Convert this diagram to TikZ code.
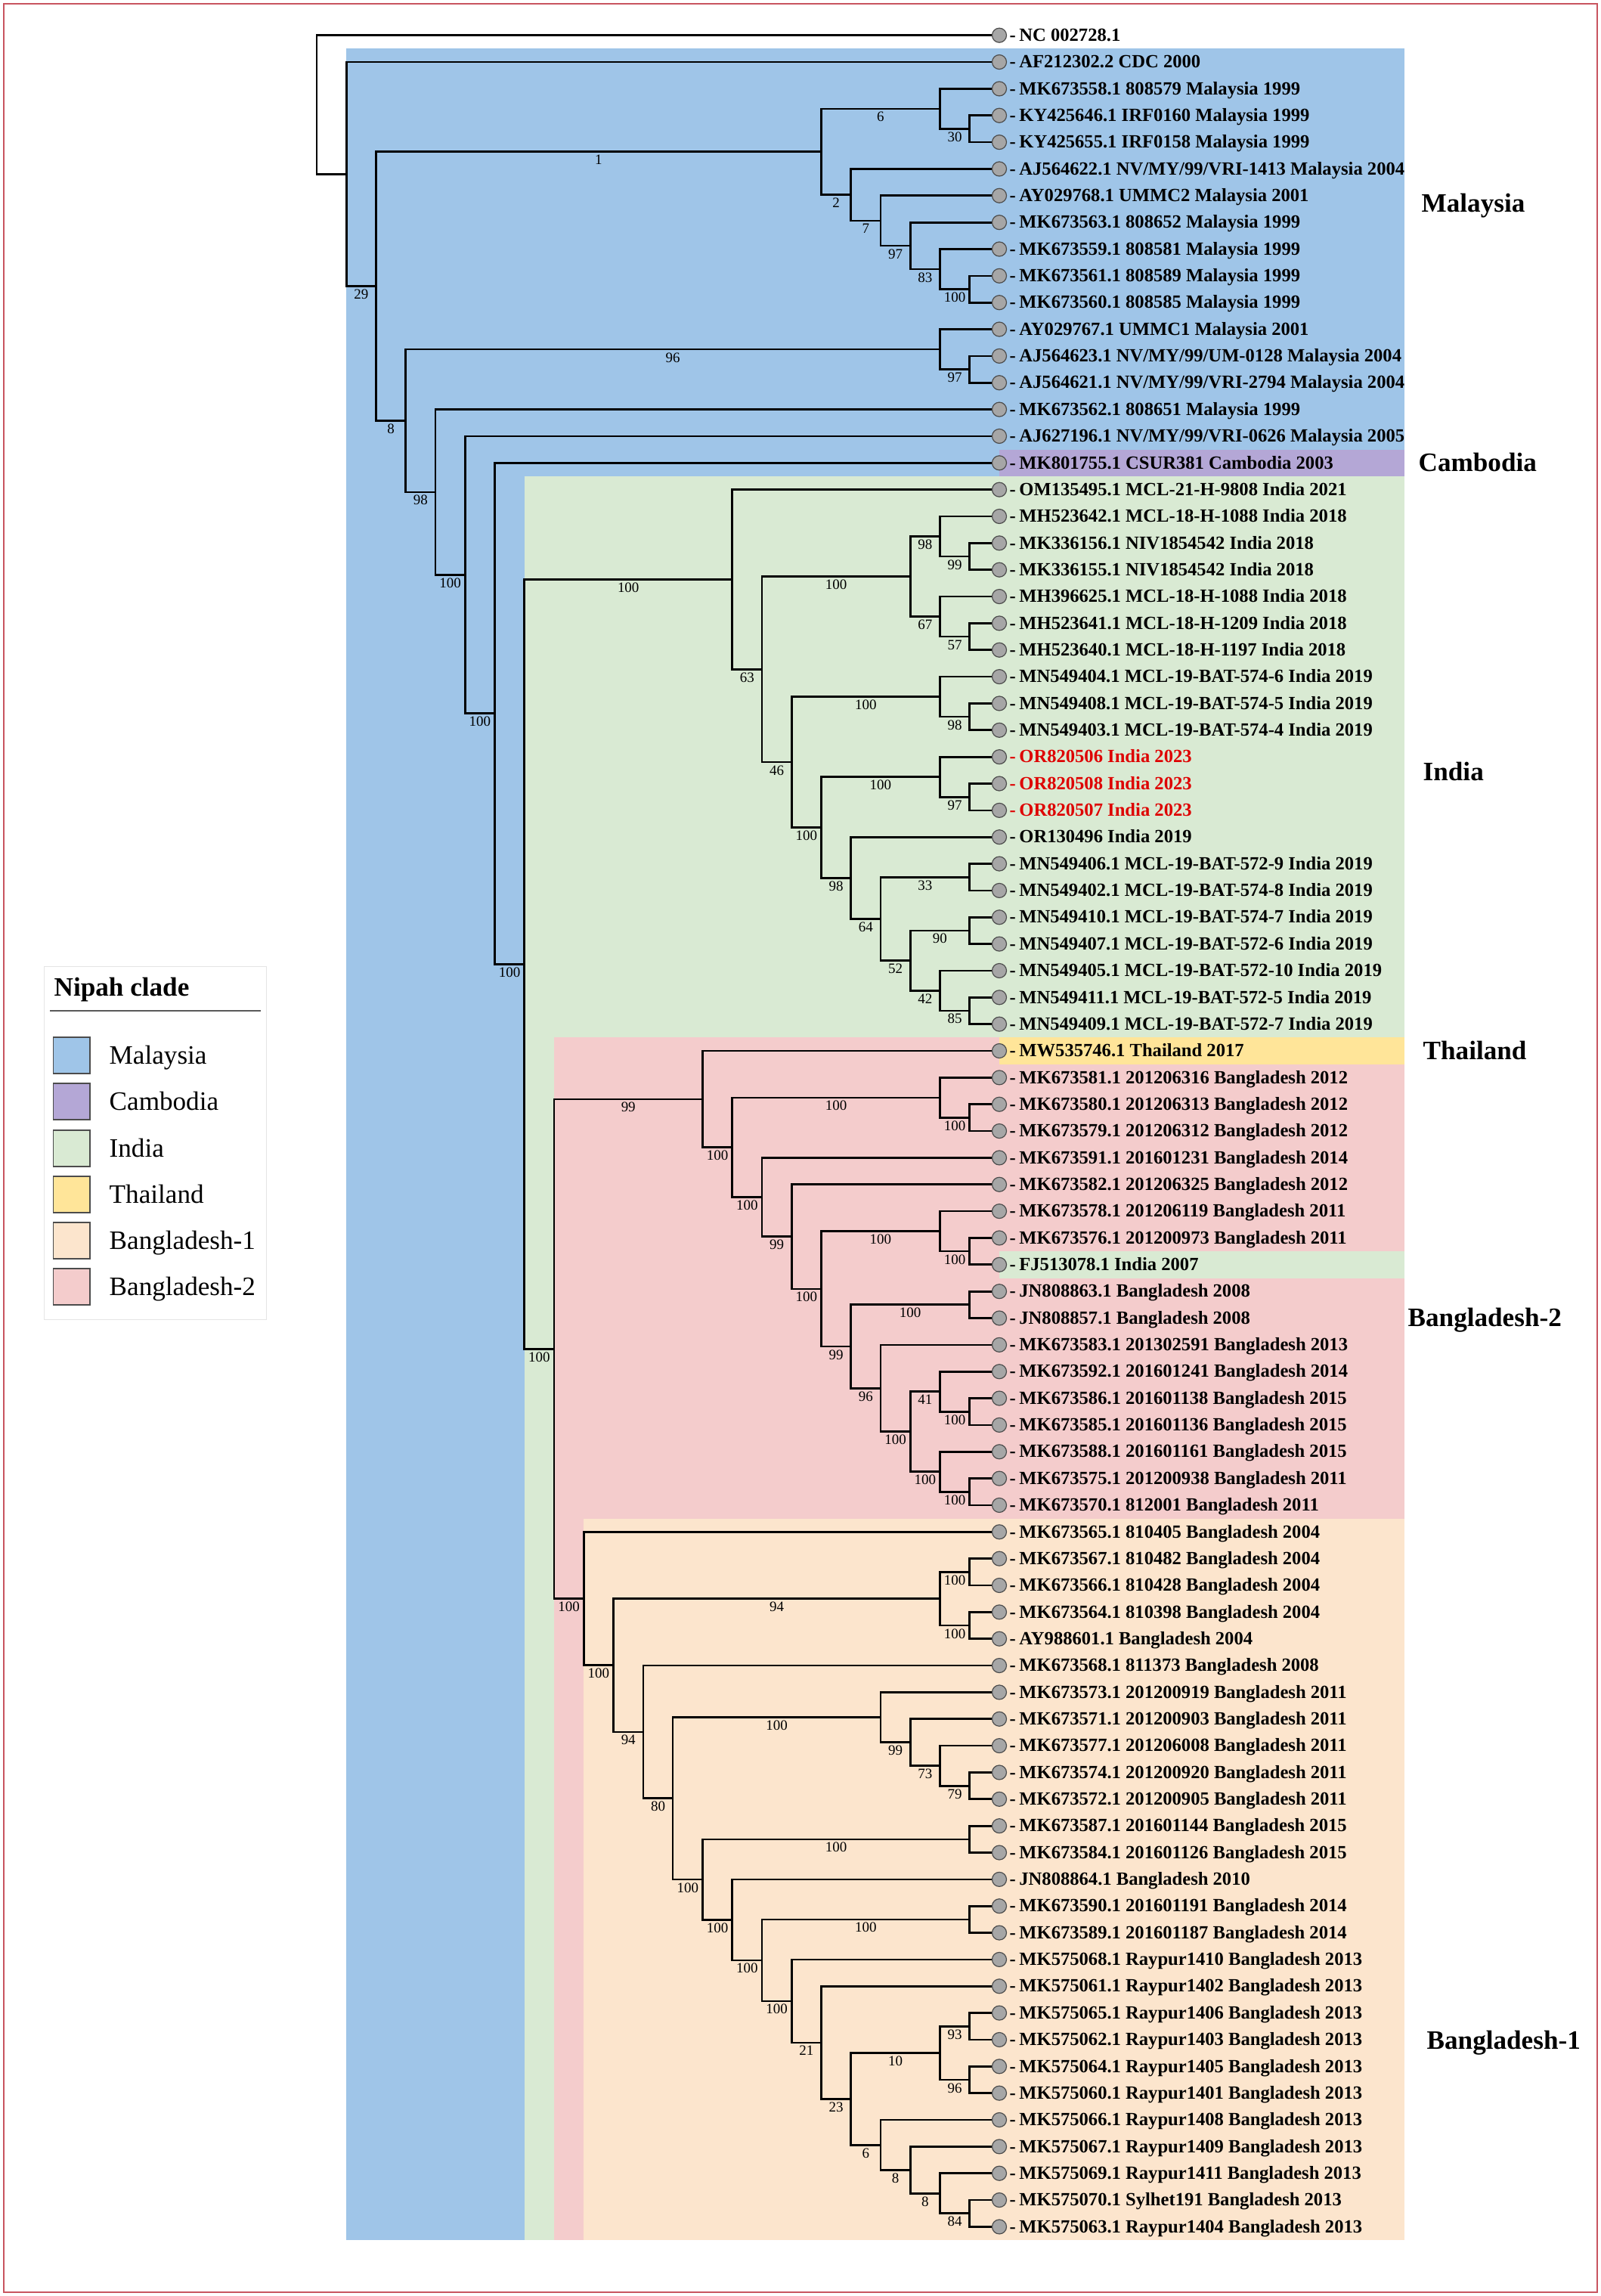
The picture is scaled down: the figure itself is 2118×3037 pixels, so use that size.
\documentclass[tikz,border=0pt]{standalone}
\usepackage{fontspec}
\setmainfont{Liberation Serif}
\usetikzlibrary{calc}

\definecolor{cMal}{RGB}{159,197,232}
\definecolor{cCam}{RGB}{180,167,214}
\definecolor{cInd}{RGB}{217,234,211}
\definecolor{cTha}{RGB}{255,229,153}
\definecolor{cBdo}{RGB}{252,229,205}
\definecolor{cBdt}{RGB}{244,204,204}
\definecolor{cBorder}{RGB}{200,85,95}
\definecolor{cRedlab}{RGB}{222,0,0}

\tikzset{
  branch/.style={line width=0.27mm, black},
  bs/.style={pos=0.75, anchor=base, yshift=-1.7mm, inner sep=0pt, font=\fontsize{5.4}{6}\selectfont},
  leafdot/.style={circle, draw=black!70, line width=0.12mm, fill=black!35, minimum size=1.9mm, inner sep=0pt},
  leaflab/.style={anchor=base west, inner sep=0pt, font=\bfseries\fontsize{7}{8}\selectfont},
  region/.style={anchor=base west, inner sep=0pt, font=\bfseries\fontsize{10}{12}\selectfont},
  legtxt/.style={anchor=base west, inner sep=0pt, font=\fontsize{10}{12}\selectfont},
  swatch/.style={draw=black!70, line width=0.12mm},
}

% internal tree node: name, level k, first child, last child
\newcommand\tn[4]{\path let \p1=(#3), \p2=(#4) in coordinate (#1) at ({(419+39.26*#2)*0.1mm},{0.5*(\y1+\y2)});}
% branch with bootstrap label / without
\newcommand\br[3]{\draw[branch] (#1) |- (#2) node[bs] {#3};}
\newcommand\bn[2]{\draw[branch] (#1) |- (#2);}
% leaf label
\newcommand\lt[3][black]{\node[leaflab,text=#1] (t#2) at ($(l#2)+(13,7.7)$) {-\kern0.45mm#3};}

\begin{document}
\begin{tikzpicture}[x=0.1mm,y=-0.1mm]
\useasboundingbox (0,0) rectangle (2118,3037);

% ---------- clade backgrounds ----------
\fill[cMal] (458.3,64.4) rectangle (1858,2963.1);
\fill[cInd] (693.8,630.0) rectangle (1858,1372.3);
\fill[cInd] (693.8,1372.3) rectangle (733.1,2963.1);
\fill[cBdt] (733.1,1372.3) rectangle (1858,2008.6);
\fill[cBdt] (733.1,2008.6) rectangle (772.3,2963.1);
\fill[cBdo] (772.3,2008.6) rectangle (1858,2963.1);
\fill[cCam] (1322,594.6) rectangle (1858,630.0);
\fill[cTha] (1322,1372.3) rectangle (1858,1407.7);
\fill[cInd] (1322,1655.1) rectangle (1858,1690.5);

% ---------- leaf positions ----------
\foreach \i in {0,...,82} {\coordinate (l\i) at (1322,{46.7+35.35*\i});}

% ---------- internal nodes (bottom-up) ----------
% Malaysia
\tn{M3}{22}{l3}{l4}
\tn{M2}{21}{l2}{M3}
\tn{M8}{22}{l9}{l10}
\tn{M7}{21}{l8}{M8}
\tn{M6}{20}{l7}{M7}
\tn{M5}{19}{l6}{M6}
\tn{M4}{18}{l5}{M5}
\tn{M1}{17}{M2}{M4}
\tn{U2}{22}{l12}{l13}
\tn{U1}{21}{l11}{U2}
% India
\tn{J1a}{22}{l19}{l20}
\tn{J1}{21}{l18}{J1a}
\tn{J2a}{22}{l22}{l23}
\tn{J2}{21}{l21}{J2a}
\tn{J}{20}{J1}{J2}
\tn{La}{22}{l25}{l26}
\tn{L}{21}{l24}{La}
\tn{Na}{22}{l28}{l29}
\tn{N}{21}{l27}{Na}
\tn{Q}{22}{l31}{l32}
\tn{S}{22}{l33}{l34}
\tn{Ta}{22}{l36}{l37}
\tn{T}{21}{l35}{Ta}
\tn{R1}{20}{S}{T}
\tn{P}{19}{Q}{R1}
\tn{O}{18}{l30}{P}
\tn{M}{17}{N}{O}
\tn{K}{16}{L}{M}
\tn{I}{15}{J}{K}
\tn{H}{14}{l17}{I}
% Bangladesh-2 / Thailand
\tn{V2a}{22}{l40}{l41}
\tn{V2}{21}{l39}{V2a}
\tn{V6a}{22}{l45}{l46}
\tn{V6}{21}{l44}{V6a}
\tn{V8}{22}{l47}{l48}
\tn{V11a}{22}{l51}{l52}
\tn{V11}{21}{l50}{V11a}
\tn{V12a}{22}{l54}{l55}
\tn{V12}{21}{l53}{V12a}
\tn{V10}{20}{V11}{V12}
\tn{V9}{19}{l49}{V10}
\tn{V7}{18}{V8}{V9}
\tn{V5}{17}{V6}{V7}
\tn{V4}{16}{l43}{V5}
\tn{V3}{15}{l42}{V4}
\tn{V1}{14}{V2}{V3}
\tn{V}{13}{l38}{V1}
% Bangladesh-1
\tn{W2a}{22}{l57}{l58}
\tn{W2b}{22}{l59}{l60}
\tn{W2}{21}{W2a}{W2b}
\tn{W5c}{22}{l65}{l66}
\tn{W5b}{21}{l64}{W5c}
\tn{W5a}{20}{l63}{W5b}
\tn{W5}{19}{l62}{W5a}
\tn{W7}{22}{l67}{l68}
\tn{W10}{22}{l70}{l71}
\tn{W14a}{22}{l74}{l75}
\tn{W14b}{22}{l76}{l77}
\tn{W14}{21}{W14a}{W14b}
\tn{W17a}{22}{l81}{l82}
\tn{W17}{21}{l80}{W17a}
\tn{W16}{20}{l79}{W17}
\tn{W15}{19}{l78}{W16}
\tn{W13}{18}{W14}{W15}
\tn{W12}{17}{l73}{W13}
\tn{W11}{16}{l72}{W12}
\tn{W9}{15}{W10}{W11}
\tn{W8}{14}{l69}{W9}
\tn{W6}{13}{W7}{W8}
\tn{W4}{12}{W5}{W6}
\tn{W3}{11}{l61}{W4}
\tn{W1}{10}{W2}{W3}
\tn{W}{9}{l56}{W1}
% backbone
\tn{BD}{8}{V}{W}
\tn{G}{7}{H}{BD}
\tn{F}{6}{l16}{G}
\tn{E}{5}{l15}{F}
\tn{D}{4}{l14}{E}
\tn{C}{3}{U1}{D}
\tn{B}{2}{M1}{C}
\tn{A}{1}{l1}{B}
\tn{RT}{0}{l0}{A}

% ---------- branches ----------
\bn{RT}{l0} \bn{RT}{A}
\bn{A}{l1} \br{A}{B}{29}
\br{B}{M1}{1} \br{B}{C}{8}
\br{M1}{M2}{6} \br{M1}{M4}{2}
\bn{M2}{l2} \br{M2}{M3}{30}
\bn{M3}{l3} \bn{M3}{l4}
\bn{M4}{l5} \br{M4}{M5}{7}
\bn{M5}{l6} \br{M5}{M6}{97}
\bn{M6}{l7} \br{M6}{M7}{83}
\bn{M7}{l8} \br{M7}{M8}{100}
\bn{M8}{l9} \bn{M8}{l10}
\br{C}{U1}{96} \br{C}{D}{98}
\bn{U1}{l11} \br{U1}{U2}{97}
\bn{U2}{l12} \bn{U2}{l13}
\bn{D}{l14} \br{D}{E}{100}
\bn{E}{l15} \br{E}{F}{100}
\bn{F}{l16} \br{F}{G}{100}
\br{G}{H}{100} \br{G}{BD}{100}
\bn{H}{l17} \br{H}{I}{63}
\br{I}{J}{100} \br{I}{K}{46}
\br{J}{J1}{98} \br{J}{J2}{67}
\bn{J1}{l18} \br{J1}{J1a}{99}
\bn{J1a}{l19} \bn{J1a}{l20}
\bn{J2}{l21} \br{J2}{J2a}{57}
\bn{J2a}{l22} \bn{J2a}{l23}
\br{K}{L}{100} \br{K}{M}{100}
\bn{L}{l24} \br{L}{La}{98}
\bn{La}{l25} \bn{La}{l26}
\br{M}{N}{100} \br{M}{O}{98}
\bn{N}{l27} \br{N}{Na}{97}
\bn{Na}{l28} \bn{Na}{l29}
\bn{O}{l30} \br{O}{P}{64}
\br{P}{Q}{33} \br{P}{R1}{52}
\bn{Q}{l31} \bn{Q}{l32}
\br{R1}{S}{90} \br{R1}{T}{42}
\bn{S}{l33} \bn{S}{l34}
\bn{T}{l35} \br{T}{Ta}{85}
\bn{Ta}{l36} \bn{Ta}{l37}
\br{BD}{V}{99} \br{BD}{W}{100}
\bn{V}{l38} \br{V}{V1}{100}
\br{V1}{V2}{100} \br{V1}{V3}{100}
\bn{V2}{l39} \br{V2}{V2a}{100}
\bn{V2a}{l40} \bn{V2a}{l41}
\bn{V3}{l42} \br{V3}{V4}{99}
\bn{V4}{l43} \br{V4}{V5}{100}
\br{V5}{V6}{100} \br{V5}{V7}{99}
\bn{V6}{l44} \br{V6}{V6a}{100}
\bn{V6a}{l45} \bn{V6a}{l46}
\br{V7}{V8}{100} \br{V7}{V9}{96}
\bn{V8}{l47} \bn{V8}{l48}
\bn{V9}{l49} \br{V9}{V10}{100}
\br{V10}{V11}{41} \br{V10}{V12}{100}
\bn{V11}{l50} \br{V11}{V11a}{100}
\bn{V11a}{l51} \bn{V11a}{l52}
\bn{V12}{l53} \br{V12}{V12a}{100}
\bn{V12a}{l54} \bn{V12a}{l55}
\bn{W}{l56} \br{W}{W1}{100}
\br{W1}{W2}{94} \br{W1}{W3}{94}
\br{W2}{W2a}{100} \br{W2}{W2b}{100}
\bn{W2a}{l57} \bn{W2a}{l58}
\bn{W2b}{l59} \bn{W2b}{l60}
\bn{W3}{l61} \br{W3}{W4}{80}
\br{W4}{W5}{100} \br{W4}{W6}{100}
\bn{W5}{l62} \br{W5}{W5a}{99}
\bn{W5a}{l63} \br{W5a}{W5b}{73}
\bn{W5b}{l64} \br{W5b}{W5c}{79}
\bn{W5c}{l65} \bn{W5c}{l66}
\br{W6}{W7}{100} \br{W6}{W8}{100}
\bn{W7}{l67} \bn{W7}{l68}
\bn{W8}{l69} \br{W8}{W9}{100}
\br{W9}{W10}{100} \br{W9}{W11}{100}
\bn{W10}{l70} \bn{W10}{l71}
\bn{W11}{l72} \br{W11}{W12}{21}
\bn{W12}{l73} \br{W12}{W13}{23}
\br{W13}{W14}{10} \br{W13}{W15}{6}
\br{W14}{W14a}{93} \br{W14}{W14b}{96}
\bn{W14a}{l74} \bn{W14a}{l75}
\bn{W14b}{l76} \bn{W14b}{l77}
\bn{W15}{l78} \br{W15}{W16}{8}
\bn{W16}{l79} \br{W16}{W17}{8}
\bn{W17}{l80} \br{W17}{W17a}{84}
\bn{W17a}{l81} \bn{W17a}{l82}

% ---------- leaf tips ----------
\foreach \i in {0,...,82} {\node[leafdot] (c\i) at (l\i) {};}

% ---------- leaf labels ----------
\lt{0}{NC 002728.1}
\lt{1}{AF212302.2 CDC 2000}
\lt{2}{MK673558.1 808579 Malaysia 1999}
\lt{3}{KY425646.1 IRF0160 Malaysia 1999}
\lt{4}{KY425655.1 IRF0158 Malaysia 1999}
\lt{5}{AJ564622.1 NV/MY/99/VRI-1413 Malaysia 2004}
\lt{6}{AY029768.1 UMMC2 Malaysia 2001}
\lt{7}{MK673563.1 808652 Malaysia 1999}
\lt{8}{MK673559.1 808581 Malaysia 1999}
\lt{9}{MK673561.1 808589 Malaysia 1999}
\lt{10}{MK673560.1 808585 Malaysia 1999}
\lt{11}{AY029767.1 UMMC1 Malaysia 2001}
\lt{12}{AJ564623.1 NV/MY/99/UM-0128 Malaysia 2004}
\lt{13}{AJ564621.1 NV/MY/99/VRI-2794 Malaysia 2004}
\lt{14}{MK673562.1 808651 Malaysia 1999}
\lt{15}{AJ627196.1 NV/MY/99/VRI-0626 Malaysia 2005}
\lt{16}{MK801755.1 CSUR381 Cambodia 2003}
\lt{17}{OM135495.1 MCL-21-H-9808 India 2021}
\lt{18}{MH523642.1 MCL-18-H-1088 India 2018}
\lt{19}{MK336156.1 NIV1854542 India 2018}
\lt{20}{MK336155.1 NIV1854542 India 2018}
\lt{21}{MH396625.1 MCL-18-H-1088 India 2018}
\lt{22}{MH523641.1 MCL-18-H-1209 India 2018}
\lt{23}{MH523640.1 MCL-18-H-1197 India 2018}
\lt{24}{MN549404.1 MCL-19-BAT-574-6 India 2019}
\lt{25}{MN549408.1 MCL-19-BAT-574-5 India 2019}
\lt{26}{MN549403.1 MCL-19-BAT-574-4 India 2019}
\lt[cRedlab]{27}{OR820506 India 2023}
\lt[cRedlab]{28}{OR820508 India 2023}
\lt[cRedlab]{29}{OR820507 India 2023}
\lt{30}{OR130496 India 2019}
\lt{31}{MN549406.1 MCL-19-BAT-572-9 India 2019}
\lt{32}{MN549402.1 MCL-19-BAT-574-8 India 2019}
\lt{33}{MN549410.1 MCL-19-BAT-574-7 India 2019}
\lt{34}{MN549407.1 MCL-19-BAT-572-6 India 2019}
\lt{35}{MN549405.1 MCL-19-BAT-572-10 India 2019}
\lt{36}{MN549411.1 MCL-19-BAT-572-5 India 2019}
\lt{37}{MN549409.1 MCL-19-BAT-572-7 India 2019}
\lt{38}{MW535746.1 Thailand 2017}
\lt{39}{MK673581.1 201206316 Bangladesh 2012}
\lt{40}{MK673580.1 201206313 Bangladesh 2012}
\lt{41}{MK673579.1 201206312 Bangladesh 2012}
\lt{42}{MK673591.1 201601231 Bangladesh 2014}
\lt{43}{MK673582.1 201206325 Bangladesh 2012}
\lt{44}{MK673578.1 201206119 Bangladesh 2011}
\lt{45}{MK673576.1 201200973 Bangladesh 2011}
\lt{46}{FJ513078.1 India 2007}
\lt{47}{JN808863.1 Bangladesh 2008}
\lt{48}{JN808857.1 Bangladesh 2008}
\lt{49}{MK673583.1 201302591 Bangladesh 2013}
\lt{50}{MK673592.1 201601241 Bangladesh 2014}
\lt{51}{MK673586.1 201601138 Bangladesh 2015}
\lt{52}{MK673585.1 201601136 Bangladesh 2015}
\lt{53}{MK673588.1 201601161 Bangladesh 2015}
\lt{54}{MK673575.1 201200938 Bangladesh 2011}
\lt{55}{MK673570.1 812001 Bangladesh 2011}
\lt{56}{MK673565.1 810405 Bangladesh 2004}
\lt{57}{MK673567.1 810482 Bangladesh 2004}
\lt{58}{MK673566.1 810428 Bangladesh 2004}
\lt{59}{MK673564.1 810398 Bangladesh 2004}
\lt{60}{AY988601.1 Bangladesh 2004}
\lt{61}{MK673568.1 811373 Bangladesh 2008}
\lt{62}{MK673573.1 201200919 Bangladesh 2011}
\lt{63}{MK673571.1 201200903 Bangladesh 2011}
\lt{64}{MK673577.1 201206008 Bangladesh 2011}
\lt{65}{MK673574.1 201200920 Bangladesh 2011}
\lt{66}{MK673572.1 201200905 Bangladesh 2011}
\lt{67}{MK673587.1 201601144 Bangladesh 2015}
\lt{68}{MK673584.1 201601126 Bangladesh 2015}
\lt{69}{JN808864.1 Bangladesh 2010}
\lt{70}{MK673590.1 201601191 Bangladesh 2014}
\lt{71}{MK673589.1 201601187 Bangladesh 2014}
\lt{72}{MK575068.1 Raypur1410 Bangladesh 2013}
\lt{73}{MK575061.1 Raypur1402 Bangladesh 2013}
\lt{74}{MK575065.1 Raypur1406 Bangladesh 2013}
\lt{75}{MK575062.1 Raypur1403 Bangladesh 2013}
\lt{76}{MK575064.1 Raypur1405 Bangladesh 2013}
\lt{77}{MK575060.1 Raypur1401 Bangladesh 2013}
\lt{78}{MK575066.1 Raypur1408 Bangladesh 2013}
\lt{79}{MK575067.1 Raypur1409 Bangladesh 2013}
\lt{80}{MK575069.1 Raypur1411 Bangladesh 2013}
\lt{81}{MK575070.1 Sylhet191 Bangladesh 2013}
\lt{82}{MK575063.1 Raypur1404 Bangladesh 2013}

% ---------- clade names ----------
\node[region] (rMal) at (1880,281) {Malaysia};
\node[region] (rCam) at (1876,623.5) {Cambodia};
\node[region] (rInd) at (1882,1032) {India};
\node[region] (rTha) at (1882,1401.5) {Thailand};
\node[region] (rBdt) at (1862,1754) {Bangladesh-2};
\node[region] (rBdo) at (1887,2710) {Bangladesh-1};

% ---------- legend ----------
\draw[black!10, line width=0.1mm] (58.6,1278) rectangle (352,1745);
\node[anchor=base west, inner sep=0pt, font=\bfseries\fontsize{10}{12}\selectfont] (legtitle) at (71,1317) {Nipah clade};
\draw[black!65, line width=0.15mm] (66,1337) -- (345,1337);
\draw[swatch, fill=cMal] (70.5,1372) rectangle (119,1420);
\draw[swatch, fill=cCam] (70.5,1433) rectangle (119,1481);
\draw[swatch, fill=cInd] (70.5,1495) rectangle (119,1543);
\draw[swatch, fill=cTha] (70.5,1556) rectangle (119,1604);
\draw[swatch, fill=cBdo] (70.5,1617) rectangle (119,1665);
\draw[swatch, fill=cBdt] (70.5,1678) rectangle (119,1726);
\node[legtxt] (g1) at (144,1407) {Malaysia};
\node[legtxt] (g2) at (144,1468) {Cambodia};
\node[legtxt] (g3) at (144,1530) {India};
\node[legtxt] (g4) at (144,1591) {Thailand};
\node[legtxt] (g5) at (144,1652) {Bangladesh-1};
\node[legtxt] (g6) at (144,1713) {Bangladesh-2};

% ---------- frame ----------
\draw[cBorder, line width=0.27mm] (5,5) rectangle (2113,3032);
\end{tikzpicture}
\end{document}
